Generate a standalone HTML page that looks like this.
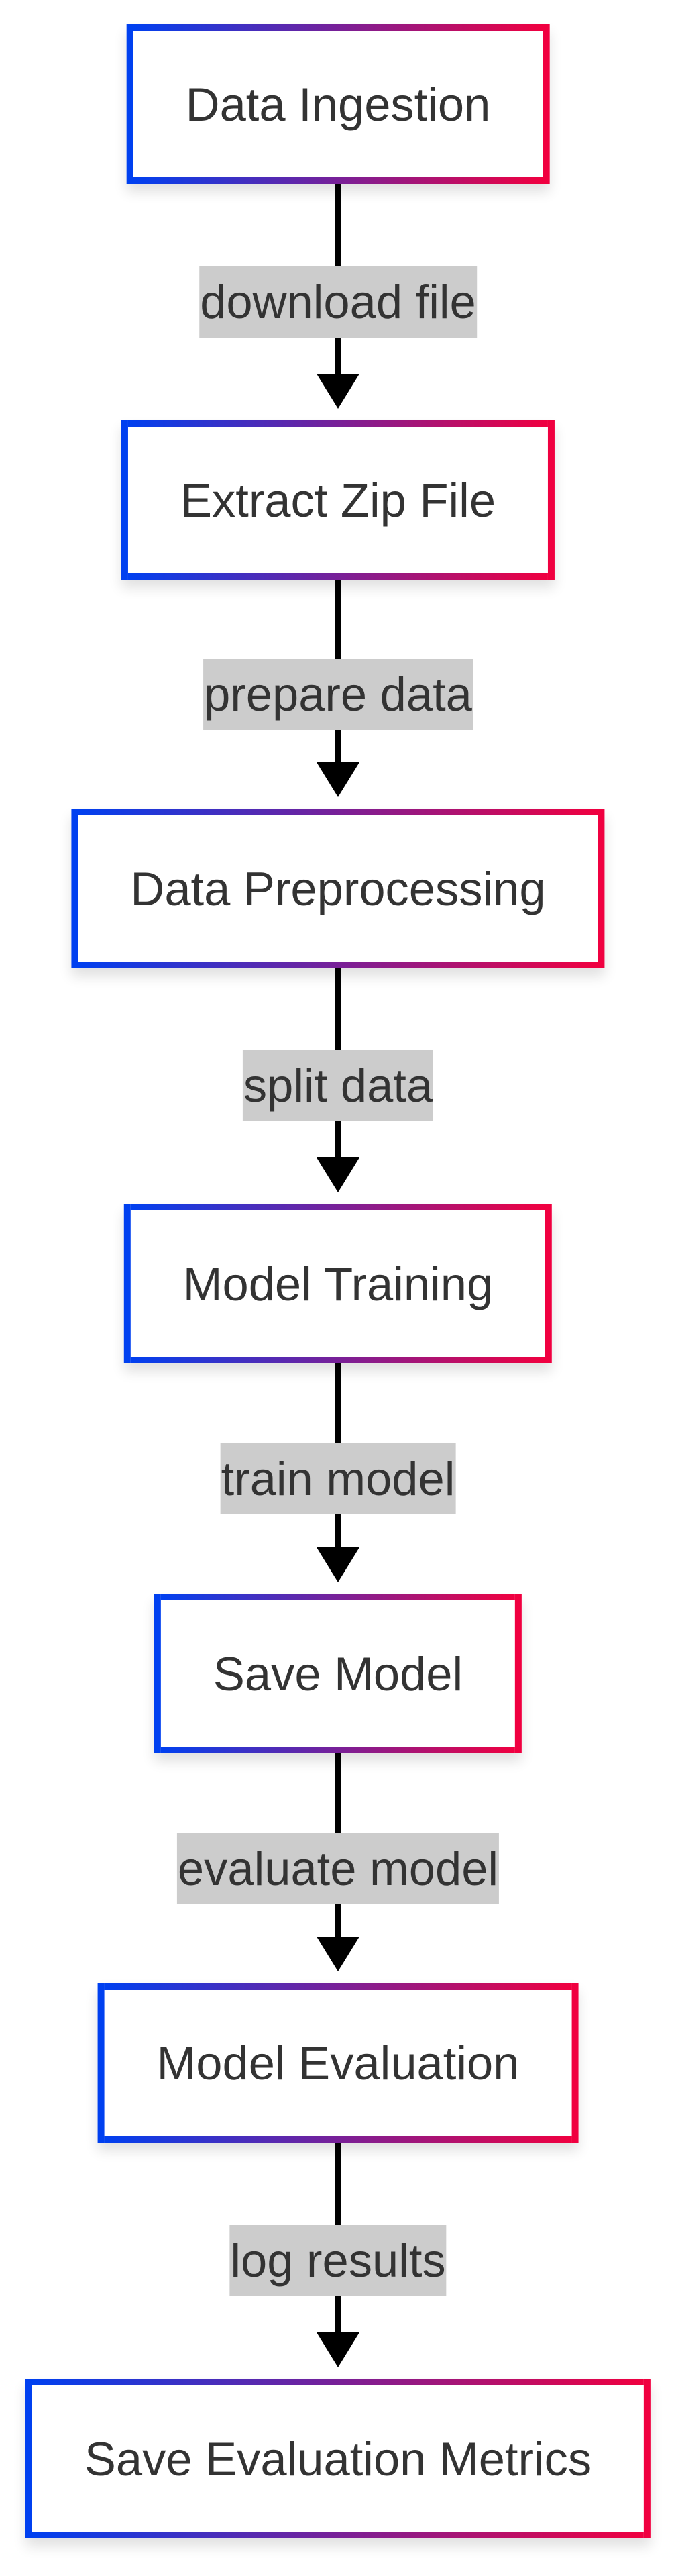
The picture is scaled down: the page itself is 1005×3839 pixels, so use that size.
<!DOCTYPE html>
<html><head><meta charset="utf-8"><style>
html,body{margin:0;padding:0;background:#fff;}
body{width:1005px;height:3839px;position:relative;overflow:hidden;font-family:"Liberation Sans",Arial,sans-serif;}
.box{position:absolute;height:238px;box-sizing:border-box;border:10px solid;border-image:linear-gradient(to right,#0040f0,#f00040) 1;background:#fff;display:flex;align-items:center;justify-content:center;padding:0 78px;font-size:70.5px;color:#333;white-space:nowrap;transform:translateX(-50%);left:504px;box-shadow:0 12px 18px rgba(0,0,0,0.12);}
.line{position:absolute;left:500px;width:9px;background:#000;}
.lbl{position:absolute;height:106px;background:#cccccc;color:#333;font-size:70.5px;line-height:106px;white-space:nowrap;transform:translateX(-50%);left:504px;padding:0 1px;}
.arr{position:absolute;left:472px;width:0;height:0;border-left:32px solid transparent;border-right:32px solid transparent;border-top:52px solid #000;}
</style></head><body>
<div class="line" style="top:274px;height:300px"></div>
<div class="line" style="top:864px;height:300px"></div>
<div class="line" style="top:1443px;height:300px"></div>
<div class="line" style="top:2032px;height:300px"></div>
<div class="line" style="top:2613px;height:300px"></div>
<div class="line" style="top:3193px;height:300px"></div>

<div class="arr" style="top:557px"></div>
<div class="arr" style="top:1136px"></div>
<div class="arr" style="top:1725px"></div>
<div class="arr" style="top:2306px"></div>
<div class="arr" style="top:2886px"></div>
<div class="arr" style="top:3476px"></div>

<div class="lbl" style="top:397px">download file</div>
<div class="lbl" style="top:982px">prepare data</div>
<div class="lbl" style="top:1565px">split data</div>
<div class="lbl" style="top:2151px">train model</div>
<div class="lbl" style="top:2732px">evaluate model</div>
<div class="lbl" style="top:3316px">log results</div>

<div class="box" style="top:36px">Data Ingestion</div>
<div class="box" style="top:626px">Extract Zip File</div>
<div class="box" style="top:1205px">Data Preprocessing</div>
<div class="box" style="top:1794px">Model Training</div>
<div class="box" style="top:2375px">Save Model</div>
<div class="box" style="top:2955px">Model Evaluation</div>
<div class="box" style="top:3545px">Save Evaluation Metrics</div>
</body></html>
